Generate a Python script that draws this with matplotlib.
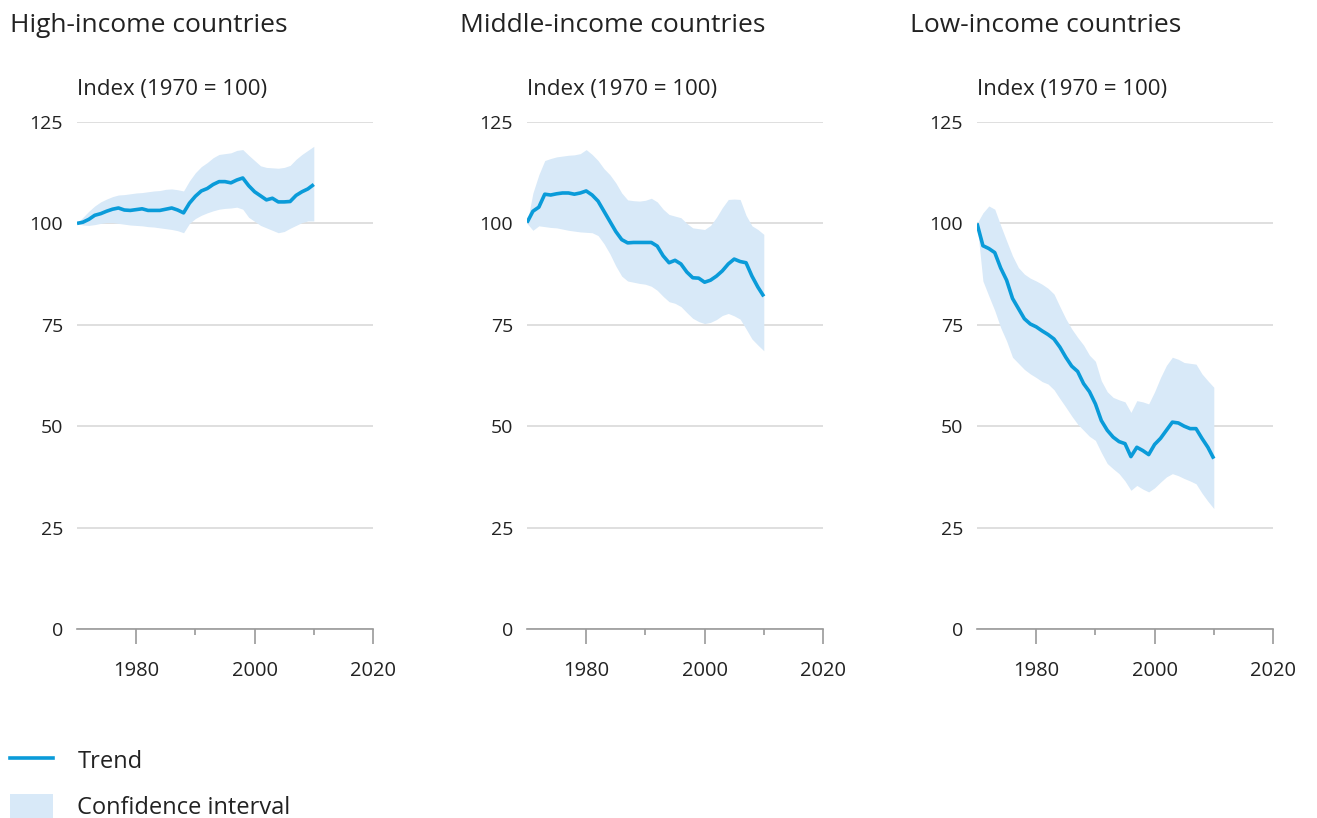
import numpy as np
import matplotlib.pyplot as plt
from matplotlib.lines import Line2D
from matplotlib.patches import Patch

plt.rcParams['font.family'] = ['Open Sans', 'DejaVu Sans']

years = list(range(1970, 2011))

titles = ['High-income countries', 'Middle-income countries', 'Low-income countries']

high_trend = [100, 100.3, 101, 102, 102.4, 103, 103.5, 103.8, 103.3, 103.2,
              103.4, 103.6, 103.2, 103.2, 103.2, 103.5, 103.8, 103.3, 102.6, 105,
              106.7, 108, 108.6, 109.6, 110.3, 110.3, 110, 110.7, 111.2, 109.3,
              107.8, 106.8, 105.8, 106.2, 105.3, 105.3, 105.4, 106.9, 107.8, 108.5,
              109.6]
high_upper = [100, 101.5, 103, 104.3, 105.3, 106, 106.6, 107, 107.1, 107.3,
              107.5, 107.6, 107.8, 108, 108.1, 108.4, 108.5, 108.3, 108, 110.5,
              112.5, 114, 115, 116.2, 117, 117.2, 117.4, 118, 118.2, 116.8,
              115.5, 114.2, 113.8, 113.7, 113.6, 113.8, 114.3, 115.8, 117, 118,
              119]
high_lower = [100, 99.6, 99.5, 99.7, 100, 100.2, 100.2, 100, 99.8, 99.6,
              99.5, 99.4, 99.2, 99.1, 98.9, 98.7, 98.5, 98.2, 97.7, 100,
              101.2, 102, 102.6, 103.1, 103.5, 103.7, 103.8, 104, 103.5, 101.5,
              100.5, 99.5, 98.9, 98.3, 97.7, 98, 98.8, 99.5, 100.2, 100.6,
              100.6]

mid_trend = [100.2, 103, 104, 107.2, 107, 107.3, 107.5, 107.5, 107.2, 107.5,
             108, 107, 105.5, 103, 100.5, 98, 96, 95.2, 95.3, 95.3,
             95.3, 95.3, 94.4, 92, 90.3, 90.9, 90, 88, 86.6, 86.5,
             85.5, 86, 87, 88.3, 90, 91.2, 90.6, 90.3, 87, 84.3,
             82]
mid_upper = [100, 107.5, 112, 115.5, 116, 116.4, 116.6, 116.8, 116.9, 117.2,
             118.2, 117, 115.5, 113.5, 112, 110, 107.5, 105.8, 105.6, 105.5,
             105.7, 106.2, 105.3, 103.5, 102.2, 101.8, 101.4, 100, 98.9, 98.7,
             98.5, 99.5, 101.5, 103.9, 105.9, 106, 105.9, 102, 99.4, 98.5,
             97.3]
mid_lower = [100, 98.3, 99.4, 99.2, 99, 98.9, 98.6, 98.3, 98.1, 97.9,
             97.8, 97.7, 97, 95, 92.5, 89.5, 87, 85.8, 85.5, 85.2,
             85, 84.5, 83.5, 82, 80.7, 80.3, 79.5, 78, 76.6, 75.8,
             75.3, 75.6, 76.3, 77.3, 77.8, 77.2, 76.4, 74, 71.5, 70,
             68.6]

low_trend = [100, 94.5, 93.8, 92.8, 89, 86, 81.5, 79, 76.5, 75.2,
             74.5, 73.5, 72.6, 71.5, 69.5, 67, 64.8, 63.5, 60.5, 58.5,
             55.5, 51.4, 49, 47.3, 46.2, 45.7, 42.5, 44.8, 44, 43,
             45.5, 47, 49, 51, 50.8, 50, 49.4, 49.4, 47, 44.8,
             42]
low_upper = [100, 102.6, 104.3, 103.5, 99.5, 95.7, 92, 89.1, 87.5, 86.5,
             85.8, 85, 84, 82.6, 79.5, 76.5, 74, 71.9, 70, 67.5,
             66, 61.2, 58.5, 57.1, 56.5, 56, 53.4, 56.3, 56, 55.5,
             58.5, 62, 65, 67, 66.5, 65.7, 65.5, 65.3, 62.9, 61.2,
             59.6]
low_lower = [100, 85.8, 82.1, 78.5, 74.3, 71, 67, 65.5, 64, 62.9,
             62, 61, 60.4, 59, 56.8, 54.7, 52.5, 50.5, 49, 47.5,
             46.5, 43.5, 40.8, 39.5, 38.3, 36.5, 34.2, 35.4, 34.5, 33.8,
             34.8, 36.2, 37.5, 38.3, 37.8, 37.1, 36.5, 35.8, 33.5, 31.5,
             29.7]

trends = [high_trend, mid_trend, low_trend]
uppers = [high_upper, mid_upper, low_upper]
lowers = [high_lower, mid_lower, low_lower]

line_col = '#0a9bd9'
fill_col = '#d8e9f8'
text_col = '#222222'

fig = plt.figure(figsize=(13.17, 8.18), dpi=100)

lefts = [77, 527, 977]
for i in range(3):
    ax = fig.add_axes([lefts[i] / 1317, 1 - 629 / 818, 296 / 1317, 507 / 818])
    ax.fill_between(years, lowers[i], uppers[i], color=fill_col, lw=0)
    ax.plot(years, trends[i], color=line_col, lw=2.6, solid_capstyle='butt')
    ax.set_xlim(1970, 2020)
    ax.set_ylim(0, 125)
    ax.set_yticks([0, 25, 50, 75, 100, 125])
    ax.set_xticks([1980, 2000, 2020])
    ax.set_xticks([1990, 2010], minor=True)
    ax.yaxis.grid(True, color='#d9d9d9', lw=1.2)
    ax.set_axisbelow(True)
    for s in ['top', 'right', 'left']:
        ax.spines[s].set_visible(False)
    ax.spines['bottom'].set_color('#9a9a9a')
    ax.spines['bottom'].set_linewidth(1.2)
    ax.tick_params(axis='y', length=0, pad=10, labelsize=14, labelcolor=text_col)
    ax.tick_params(axis='x', which='major', length=11, width=1.2, color='#9a9a9a',
                   pad=12, labelsize=14.5, labelcolor=text_col)
    ax.tick_params(axis='x', which='minor', length=4.5, width=1.2, color='#9a9a9a')
    ax.patch.set_alpha(0)

    fig.text((lefts[i] - 67) / 1317, 1 - 26 / 818, titles[i], fontsize=19,
             color=text_col, va='center', ha='left')
    fig.text(lefts[i] / 1317, 1 - 90 / 818, 'Index (1970 = 100)', fontsize=16,
             color=text_col, va='center', ha='left')

handles = [Line2D([0], [0], color=line_col, lw=2.6),
           Patch(facecolor=fill_col, edgecolor='none')]
fig.legend(handles, ['Trend', 'Confidence interval'], loc='upper left',
           bbox_to_anchor=(10 / 1317, 1 - 748 / 818), frameon=False, fontsize=17,
           handlelength=1.8, handleheight=1.2, handletextpad=1.05,
           labelspacing=0.85, labelcolor=text_col, borderaxespad=0, borderpad=0)

fig.savefig('out.png', dpi=100)
